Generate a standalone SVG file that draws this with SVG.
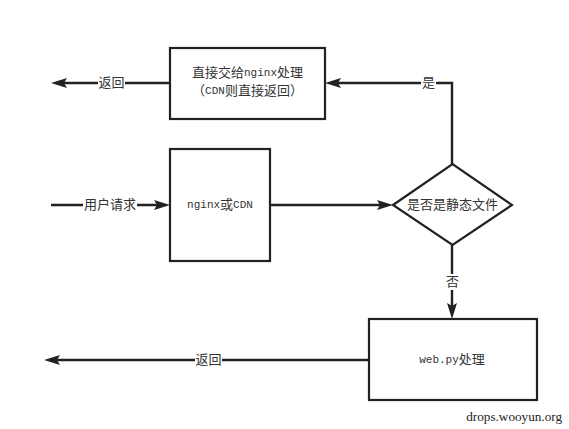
<svg xmlns="http://www.w3.org/2000/svg" width="569" height="429" viewBox="0 0 569 429">
<style>
.box{fill:#fff;stroke:#222;stroke-width:2.2}
.ln{fill:none;stroke:#222;stroke-width:2.4}
.t{font-family:"Liberation Mono","Noto Sans CJK SC",monospace;font-size:13px;fill:#333;text-anchor:middle;dominant-baseline:central}
.m{font-size:11px}
.bg{fill:#fff}
.wm{font-family:"Liberation Serif",serif;font-size:13.2px;fill:#222;text-anchor:end}
</style>
<defs>
<marker id="ah" markerUnits="userSpaceOnUse" markerWidth="17" markerHeight="11" refX="10" refY="5.5" orient="auto">
<path d="M0,0.5 L16,5.5 L0,10.5 L3,5.5 z" fill="#222"/>
</marker>
</defs>
<rect width="569" height="429" fill="#fff"/>
<g id="connectors">
<path class="ln" d="M51,205 H164" marker-end="url(#ah)"/>
<path class="ln" d="M270,205 H387" marker-end="url(#ah)"/>
<path class="ln" d="M452,164 V83 H331" marker-end="url(#ah)"/>
<path class="ln" d="M452,245 V313" marker-end="url(#ah)"/>
<path class="ln" d="M170,83 H57" marker-end="url(#ah)"/>
<path class="ln" d="M369,360 H50" marker-end="url(#ah)"/>
<rect class="bg" x="83" y="197" width="54" height="16"/>
<text class="t" x="110" y="205">用户请求</text>
<rect class="bg" x="421" y="75" width="15" height="16"/>
<text class="t" x="428.5" y="83">是</text>
<rect class="bg" x="445" y="274" width="15" height="16"/>
<text class="t" x="452.5" y="282">否</text>
<rect class="bg" x="98" y="75" width="27" height="16"/>
<text class="t" x="111.5" y="83">返回</text>
<rect class="bg" x="195" y="352" width="27" height="16"/>
<text class="t" x="208.5" y="360">返回</text>
</g>
<g id="node-direct">
<rect class="box" x="170" y="48" width="155" height="71"/>
<text class="t" x="247.5" y="73">直接交给<tspan class="m">nginx</tspan>处理</text>
<text class="t" x="247.5" y="91">（<tspan class="m">CDN</tspan>则直接返回）</text>
</g>
<g id="node-nginx">
<rect class="box" x="170" y="149" width="100" height="112"/>
<text class="t" x="220" y="205"><tspan class="m">nginx</tspan>或<tspan class="m">CDN</tspan></text>
</g>
<g id="node-decision">
<polygon class="box" points="393,205 452.5,164 512,205 452.5,245"/>
<text class="t" x="452.5" y="205">是否是静态文件</text>
</g>
<g id="node-webpy">
<rect class="box" x="369" y="319" width="168" height="81"/>
<text class="t" x="452" y="360"><tspan class="m">web.py</tspan>处理</text>
</g>
<text class="wm" x="562" y="421">drops.wooyun.org</text>
</svg>
